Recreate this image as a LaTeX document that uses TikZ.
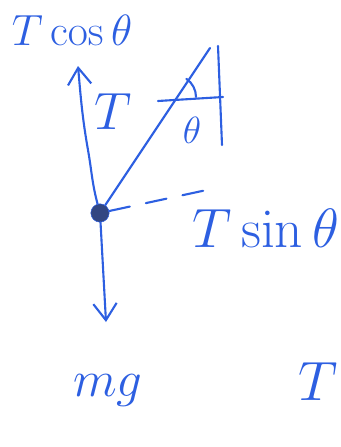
\documentclass[tikz,border=0pt]{standalone}
\usepackage{amsmath}
\usepackage{tikz}
\usetikzlibrary{arrows.meta,positioning,calc}
\usepackage{xcolor}
\definecolor{ink}{RGB}{45,95,225}
\definecolor{bobfill}{RGB}{50,70,130}

\begin{document}
\begin{tikzpicture}[
      x=0.03cm, y=-0.03cm, >={Straight Barb[length=5mm,width=7mm]},
      pen/.style={draw=ink, line width=1.8pt, line cap=round},
      lbl/.style={text=ink, inner sep=0pt, font=\Huge, scale=#1},
      lbl/.default=1.8,
      bob/.style={circle, fill=bobfill, draw=ink, minimum size=5.5mm, inner sep=0pt}
    ]
    \useasboundingbox (0,0) rectangle (341,447);

    \node[bob] (mass) at (100,213) {};
    \coordinate (pivot) at (210,48);
    \coordinate (cross) at (174,98);

    % support and reference line
    \draw[pen] (218,46) -- (222,145);
    \draw[pen] (158,101) -- (223,97);
    \draw[pen] (cross) ++(22,-1) arc[start angle=0, end angle=-56, radius=22];
    \node[lbl=1.3] (theta) at (192,130) {$\theta$};

    % string
    \draw[pen] (mass) -- (pivot);
    \node[lbl] (tlab) at (113,112) {$T$};

    % vertical component
    \coordinate (up) at (78,66);
    \draw[pen, ->] (mass) to[out=105, in=-80] (88,150) to[out=100, in=-85] (up);
    \node[lbl=1.5] (tcos) at (72,30) {$T\cos\theta$};

    % horizontal component
    \coordinate (side) at (216,188);
    \draw[pen, dashed, dash pattern=on 18pt off 14pt] (mass) -- (side);
    \node[lbl=1.9] (tsin) at (266,228) {$T\sin\theta$};

    % weight
    \coordinate (down) at (106,322);
    \draw[pen, ->] (mass) -- (down);
    \node[lbl=1.75] (mg) at (108,390) {$mg$};

    \node[lbl=1.9] (tcut) at (318,382) {$T$};
  \end{tikzpicture}
\end{document}
